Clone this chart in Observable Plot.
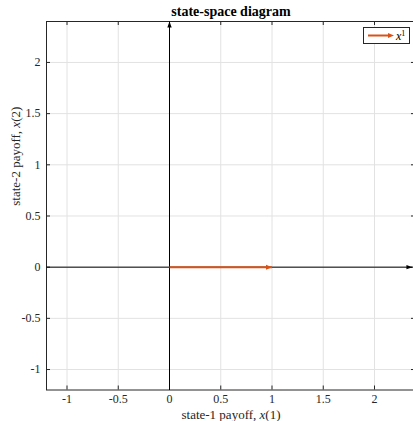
<!DOCTYPE html>
<html>
<head>
<meta charset="utf-8">
<script src="https://cdn.jsdelivr.net/npm/d3@7"></script>
<script src="https://cdn.jsdelivr.net/npm/@observablehq/plot@0.6"></script>
<style>
  html, body { margin: 0; padding: 0; background: #fff; overflow: hidden; }
  #chart { position: relative; width: 413px; height: 421px; }
  #legend {
    position: absolute; left: 363px; top: 27px; width: 45px; height: 15px;
    border: 1px solid #262626; background: #fff;
  }
</style>
</head>
<body>
<div id="chart"></div>
<script>
// Axis limits and tick values (both axes share the same range)
const xLimits = [-1.2, 2.4];
const yLimits = [-1.2, 2.4];
const xTicks = [-1, -0.5, 0, 0.5, 1, 1.5, 2];
const yTicks = [-1, -0.5, 0, 0.5, 1, 1.5, 2];

// Coordinate axes drawn as arrows through the origin
const axisArrows = [
  {x1: -1.2, y1: 0, x2: 2.37, y2: 0},
  {x1: 0, y1: -1.2, x2: 0, y2: 2.4}
];

// State trajectory x^1 (one step in the state space)
const trajectory = [
  {x1: 0, y1: 0, x2: 1, y2: 0}
];

const title = "state-space diagram";
const xLabel = "state-1 payoff, x(1)";
const yLabel = "state-2 payoff, x(2)";
const seriesName = "x";
const seriesSup = "1";
const trajColor = "#D95319";
const gridColor = "#e2e2e2";
const boxColor = "#262626";

const W = 413, H = 421;
const mTop = 21, mBottom = 31.5, mLeft = 46, mRight = -2;
const frameH = H - mTop - mBottom;
const frameW = W - mLeft - mRight;

const angle = d => Math.atan2(d.x2 - d.x1, d.y2 - d.y1) * 180 / Math.PI;

const chart = Plot.plot({
  width: W,
  height: H,
  marginTop: mTop,
  marginBottom: mBottom,
  marginLeft: mLeft,
  marginRight: mRight,
  style: {fontFamily: "'Liberation Serif', serif", fontSize: "12px", color: "#262626", background: "#fff"},
  x: {domain: xLimits},
  y: {domain: yLimits},
  marks: [
    // grid
    Plot.ruleX(xTicks, {stroke: gridColor, strokeWidth: 1}),
    Plot.ruleY(yTicks, {stroke: gridColor, strokeWidth: 1}),
    // inward tick marks on the box
    Plot.ruleX(xTicks, {stroke: boxColor, insetTop: frameH - 4}),
    Plot.ruleX(xTicks, {stroke: boxColor, insetBottom: frameH - 4}),
    Plot.ruleY(yTicks, {stroke: boxColor, insetRight: frameW - 4}),
    Plot.ruleY(yTicks, {stroke: boxColor, insetLeft: frameW - 4}),
    Plot.frame({stroke: boxColor, strokeWidth: 1}),
    // tick labels
    Plot.axisX(xTicks, {tickSize: 0, tickPadding: 4, tickFormat: d => String(d), label: null, fill: "#262626", fontSize: 12}),
    Plot.axisY(yTicks, {tickSize: 0, tickPadding: 6, tickFormat: d => String(d), label: null, fill: "#262626", fontSize: 12}),
    // coordinate axes
    Plot.link(axisArrows, {x1: "x1", y1: "y1", x2: "x2", y2: "y2", stroke: "#000", strokeWidth: 1}),
    Plot.vector(axisArrows, {x: "x2", y: "y2", anchor: "end", length: 6, r: 2.2, shape: "spike", rotate: angle, fill: "#000", stroke: "none"}),
    // trajectory
    Plot.link(trajectory, {x1: "x1", y1: "y1", x2: "x2", y2: "y2", stroke: trajColor, strokeWidth: 2}),
    Plot.vector(trajectory, {x: "x2", y: "y2", anchor: "end", length: 6, r: 2.5, shape: "spike", rotate: angle, fill: trajColor, stroke: "none"}),
    // title and axis labels
    Plot.text([title], {frameAnchor: "top", lineAnchor: "middle", dy: -10, fontWeight: "bold", fontSize: 14, fill: "#000"}),
    Plot.text([xLabel], {frameAnchor: "bottom", lineAnchor: "middle", dy: 25, fontSize: 13, fill: "#262626"}),
    Plot.text([yLabel], {frameAnchor: "left", lineAnchor: "middle", dx: -31, rotate: -90, fontSize: 13, fill: "#262626"})
  ]
});

// Set the "x" of x(1)/x(2) in italics
chart.querySelectorAll("text").forEach(t => {
  const s = t.textContent;
  const m = s.match(/^(.*), x(\(\d\))$/);
  if (!m) return;
  t.textContent = "";
  const a = document.createElementNS("http://www.w3.org/2000/svg", "tspan");
  a.textContent = m[1] + ", ";
  const b = document.createElementNS("http://www.w3.org/2000/svg", "tspan");
  b.textContent = "x";
  b.setAttribute("font-style", "italic");
  const c = document.createElementNS("http://www.w3.org/2000/svg", "tspan");
  c.textContent = m[2];
  t.append(a, b, c);
});

const host = document.getElementById("chart");
host.append(chart);

// Legend box
const legend = document.createElement("div");
legend.id = "legend";
legend.innerHTML =
  `<svg width="45" height="15" style="position:absolute;left:0;top:0">
     <line x1="4" y1="7.5" x2="25" y2="7.5" stroke="${trajColor}" stroke-width="2"/>
     <path d="M30,7.5L24,5L24,10Z" fill="${trajColor}"/>
     <text x="32" y="11.5" font-family="'Liberation Serif', serif" font-size="12" fill="#000"><tspan font-style="italic">${seriesName}</tspan><tspan dy="-4" font-size="8">${seriesSup}</tspan></text>
   </svg>`;
host.append(legend);
</script>
</body>
</html>
